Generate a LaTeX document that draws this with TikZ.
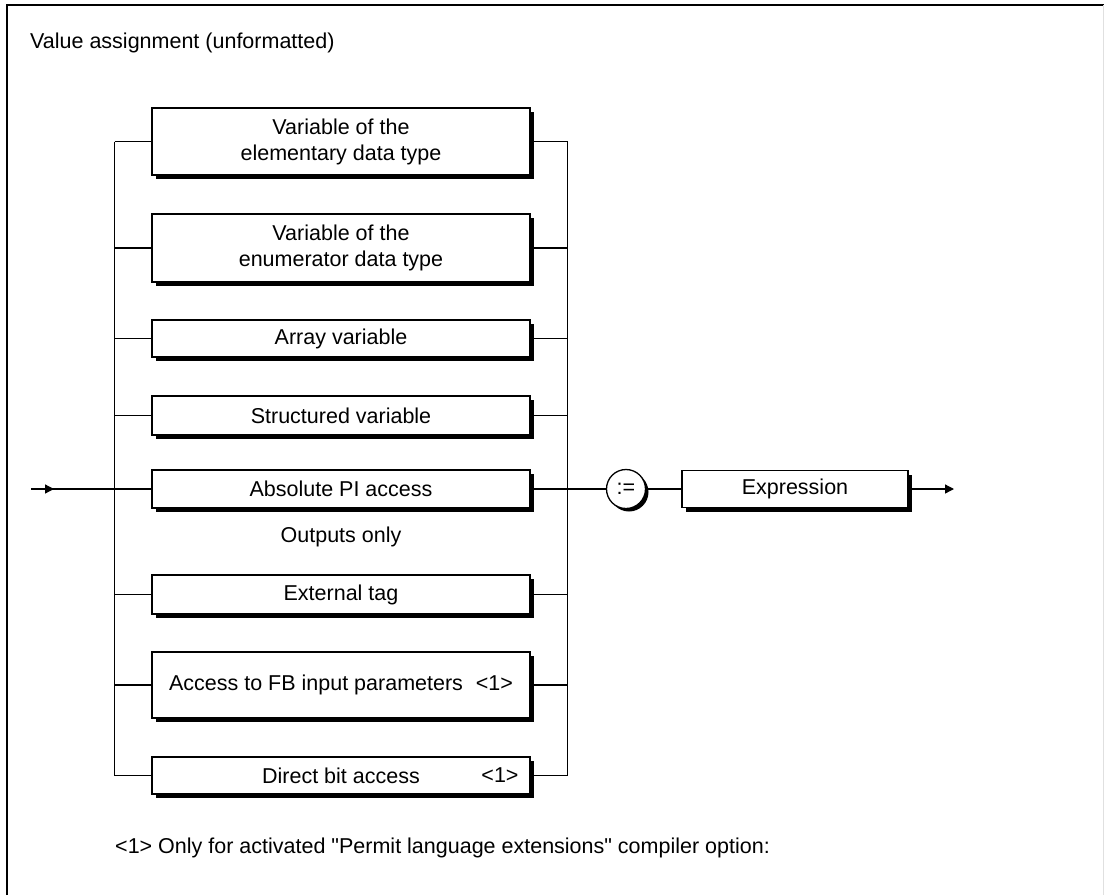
\documentclass[tikz,border=0pt]{standalone}
\usepackage{fontspec}
\setmainfont{Liberation Sans}[Ligatures=TeXOff]
\usetikzlibrary{shadows,arrows.meta}
\tikzset{
  synbox/.style={draw=black, line width=1.3pt, fill=white, minimum width=378pt, align=center, inner sep=0pt,
    font=\fontsize{21.5}{26}\selectfont,
    general shadow={shadow xshift=4pt, shadow yshift=-4pt, fill=black}},
  termcirc/.style={draw=black, line width=1.3pt, fill=white, circle, minimum size=39pt, inner sep=0pt,
    font=\fontsize{21.5}{26}\selectfont,
    general shadow={shadow xshift=3pt, shadow yshift=-3pt, fill=black}},
  conn/.style={line width=1.3pt, draw=black},
  lbl/.style={font=\fontsize{21.5}{26}\selectfont, inner sep=0pt},
  tip/.style={-{Triangle[length=9pt,width=9pt]}}
}
\begin{document}
\begin{tikzpicture}[x=1pt,y=-1pt]
\useasboundingbox (0,0) rectangle (1104,895);
% frame
\draw[line width=2.2pt] (7,895) -- (7,5) -- (1104,5);
\draw[line width=1pt, black!12] (1103,5) -- (1103,895);
\node[lbl, anchor=west] (title) at (30,43) {Value assignment (unformatted)};

% boxes
\node[synbox, minimum height=67pt] (b1) at (341,141.5) {Variable of the\\elementary data type};
\node[synbox, minimum height=68pt] (b2) at (341,248) {Variable of the\\enumerator data type};
\node[synbox, minimum height=37pt] (b3) at (341,338.5) {Array variable};
\node[synbox, minimum height=39pt] (b4) at (341,415.5) {Structured variable};
\node[synbox, minimum height=38pt] (b5) at (341,489) {Absolute PI access};
\node[lbl] (outonly) at (341,537) {Outputs only};
\node[synbox, minimum height=39pt] (b6) at (341,594.5) {External tag};
\node[synbox, minimum height=66pt] (b7) at (341,685) {Access to FB input parameters\hspace{0.6em}<1>};
\node[synbox, minimum height=37pt] (b8) at (341,775.5) {};
\node[lbl] (b8a) at (341,775.5) {Direct bit access};
\node[lbl] (b8b) at (500,775.5) {<1>};

\node[termcirc] (asg) at (626,489) {:=};
\node[synbox, minimum width=226pt, minimum height=37pt] (expr) at (795,489) {Expression};

\node[lbl, anchor=west] (foot) at (115,848) {<1> Only for activated "Permit language extensions" compiler option:};

% rails
\coordinate (lx) at (114.5,0);
\coordinate (rx) at (567.5,0);
\coordinate (in) at (31,489);
\coordinate (intip) at (54,489);
\coordinate (out) at (954,489);

\draw[conn] (b1.west -| lx) -- (b8.west -| lx);
\draw[conn] (b1.east -| rx) -- (b8.east -| rx);
\foreach \b in {b1,b2,b3,b4,b5,b6,b7,b8}{
  \draw[conn] (\b.west -| lx) -- (\b.west);
  \draw[conn] (\b.east) -- (\b.east -| rx);
}
\draw[conn] (in) -- (b5.west -| lx);
\draw[conn, tip] (in) -- (intip);
\draw[conn] (b5.east -| rx) -- (asg.west);
\draw[conn] (asg.east) -- (expr.west);
\draw[conn, tip] (expr.east) -- (out);
\end{tikzpicture}
\end{document}
